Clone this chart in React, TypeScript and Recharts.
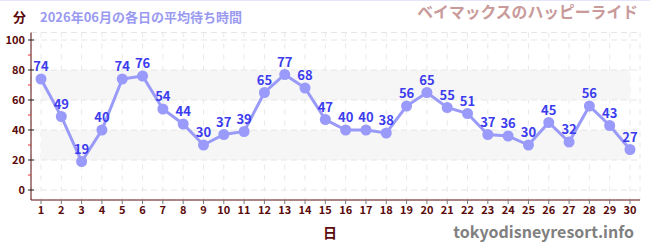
import React from "react";
import {
  LineChart,
  Line,
  XAxis,
  YAxis,
  CartesianGrid,
  ReferenceArea,
  ReferenceLine,
  LabelList,
} from "recharts";

const days = [
  "1", "2", "3", "4", "5", "6", "7", "8", "9", "10",
  "11", "12", "13", "14", "15", "16", "17", "18", "19", "20",
  "21", "22", "23", "24", "25", "26", "27", "28", "29", "30",
];
const waits = [
  74, 49, 19, 40, 74, 76, 54, 44, 30, 37,
  39, 65, 77, 68, 47, 40, 40, 38, 56, 65,
  55, 51, 37, 36, 30, 45, 32, 56, 43, 27,
];
const yTicks = [0, 10, 20, 30, 40, 50, 60, 70, 80, 90, 100];
const gridValues = [0, 20, 40, 60, 80, 100, 105];
const bands = [
  [20, 40],
  [60, 80],
];

const titleText = "2026年06月の各日の平均待ち時間";
const rideName = "ベイマックスのハッピーライド";
const siteName = "tokyodisneyresort.info";

const font = "'Noto Sans CJK JP', 'Noto Sans', sans-serif";
const axisColor = "#5a0a0a";

const data = days.map((d, i) => ({ day: d, wait: waits[i] }));

function YTick(props: any) {
  const { x, y, payload } = props;
  const v = payload.value as number;
  if (v % 20 !== 0) {
    return <line x1={x + 3} x2={x + 6} y1={y} y2={y} stroke="#e03030" strokeWidth={1} />;
  }
  return (
    <g>
      <line x1={x + 3} x2={x + 9} y1={y} y2={y} stroke="#222" strokeWidth={1} />
      <text
        x={x}
        y={y}
        dy={4}
        textAnchor="end"
        fontFamily={font}
        fontWeight="bold"
        fontSize={11}
        fill={axisColor}
      >
        {v}
      </text>
    </g>
  );
}

export default function App() {
  return (
    <div style={{ position: "absolute", left: 0, top: 0, width: 650, height: 250, fontFamily: font, background: "#fff" }}>
      <div style={{ position: "absolute", left: 0, top: 0, width: 650, height: 1, background: "#e4e4fa" }} />
      <LineChart
        width={650}
        height={250}
        data={data}
        margin={{ top: 32.5, right: 10, left: 0, bottom: 0 }}
      >
        {bands.map(([a, b]) => (
          <ReferenceArea key={a} y1={a} y2={b} fill="#f6f6f6" fillOpacity={1} stroke="none" ifOverflow="hidden" />
        ))}
        <CartesianGrid horizontal={false} stroke="#e8e8e8" strokeDasharray="5 6" />
        {gridValues.map((v) => (
          <ReferenceLine key={v} y={v} stroke="#e6e6e6" strokeDasharray="6 4" />
        ))}
        <XAxis
          dataKey="day"
          interval={0}
          height={50}
          padding={{ left: 10, right: 10 }}
          stroke={axisColor}
          tickSize={4}
          tickLine={{ stroke: "#777" }}
          tick={{ fontFamily: font, fontWeight: "bold", fontSize: 11, fill: axisColor }}
        />
        <YAxis
          width={31}
          domain={[-20 / 3, 105]}
          allowDataOverflow
          ticks={yTicks}
          interval={0}
          tickSize={6}
          tickMargin={0}
          tickLine={false}
          stroke={axisColor}
          tick={<YTick />}
        />
        <Line
          type="linear"
          dataKey="wait"
          stroke="#9a9af8"
          strokeWidth={3}
          dot={{ r: 5.5, fill: "#9a9afa", stroke: "none" }}
          isAnimationActive={false}
        >
          <LabelList
            dataKey="wait"
            position="top"
            offset={8}
            fill="#3c3cee"
            fontFamily={font}
            fontWeight="bold"
            fontSize={13}
          />
        </Line>
      </LineChart>
      <div style={{ position: "absolute", left: 13, top: 8, fontSize: 13, fontWeight: "bold", color: axisColor, lineHeight: "18px" }}>分</div>
      <div style={{ position: "absolute", left: 40, top: 8, fontSize: 13, fontWeight: "bold", color: "#9a9af0", lineHeight: "18px" }}>{titleText}</div>
      <div style={{ position: "absolute", right: 12, top: 1, fontSize: 15.8, fontWeight: "bold", color: "#c89a9a", lineHeight: "22px" }}>{rideName}</div>
      <div style={{ position: "absolute", left: 323, top: 222, fontSize: 14, fontWeight: "bold", color: axisColor, lineHeight: "20px" }}>日</div>
      <div style={{ position: "absolute", right: 16, top: 220, fontSize: 16, fontWeight: "bold", color: "#808080", lineHeight: "22px" }}>{siteName}</div>
    </div>
  );
}
